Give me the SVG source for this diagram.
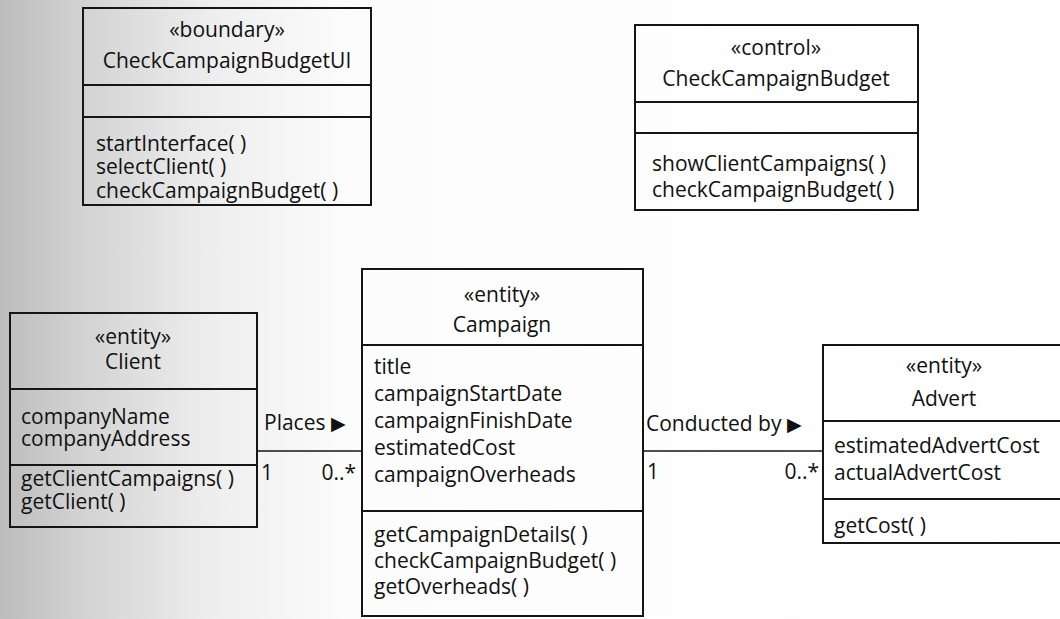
<svg xmlns="http://www.w3.org/2000/svg" width="1060" height="619" viewBox="0 0 1060 619">
  <defs>
    <linearGradient id="scan" x1="0" y1="0" x2="1" y2="0" gradientUnits="objectBoundingBox">
      <stop offset="0" stop-color="#bcbcbc"/>
      <stop offset="0.075" stop-color="#d2d2d2"/>
      <stop offset="0.2" stop-color="#eeeeee"/>
      <stop offset="0.33" stop-color="#fcfcfc"/>
      <stop offset="1" stop-color="#ffffff"/>
    </linearGradient>
  </defs>
  <style>
    .box { fill: none; stroke: #151515; stroke-width: 2; }
    .sep { stroke: #151515; stroke-width: 1.8; fill: none; }
    .assoc { stroke: #151515; stroke-width: 1.6; fill: none; }
    text { font-family: "Open Sans", "Noto Sans", "DejaVu Sans", sans-serif; font-size: 21px; fill: #111111; }
    .c { text-anchor: middle; }
    .r { text-anchor: end; }
    .arrow { font-family: "DejaVu Sans", sans-serif; font-size: 19px; }
  </style>
  <rect x="0" y="0" width="1060" height="619" fill="url(#scan)"/>

  <g id="CheckCampaignBudgetUI">
    <rect class="box" x="83" y="8" width="288" height="197"/>
    <line class="sep" x1="83" y1="85" x2="371" y2="85"/>
    <line class="sep" x1="83" y1="117" x2="371" y2="117"/>
    <text class="c" x="227" y="37">«boundary»</text>
    <text class="c" x="227" y="68">CheckCampaignBudgetUI</text>
    <text x="96" y="151">startInterface( )</text>
    <text x="96" y="174">selectClient( )</text>
    <text x="96" y="198">checkCampaignBudget( )</text>
  </g>

  <g id="CheckCampaignBudget">
    <rect class="box" x="635" y="25" width="283" height="185"/>
    <line class="sep" x1="635" y1="102" x2="918" y2="102"/>
    <line class="sep" x1="635" y1="133" x2="918" y2="133"/>
    <text class="c" x="776" y="55">«control»</text>
    <text class="c" x="776" y="86">CheckCampaignBudget</text>
    <text x="652" y="171">showClientCampaigns( )</text>
    <text x="652" y="197">checkCampaignBudget( )</text>
  </g>

  <g id="Client">
    <rect class="box" x="10" y="313" width="247" height="214"/>
    <line class="sep" x1="10" y1="389" x2="257" y2="389"/>
    <line class="sep" x1="10" y1="465" x2="257" y2="465"/>
    <text class="c" x="133" y="344">«entity»</text>
    <text class="c" x="133" y="369">Client</text>
    <text x="21" y="424">companyName</text>
    <text x="21" y="446">companyAddress</text>
    <text x="21" y="486">getClientCampaigns( )</text>
    <text x="21" y="509">getClient( )</text>
  </g>

  <g id="Campaign">
    <rect class="box" x="362" y="269" width="281" height="347"/>
    <line class="sep" x1="362" y1="345" x2="643" y2="345"/>
    <line class="sep" x1="362" y1="511" x2="643" y2="511"/>
    <text class="c" x="502" y="302">«entity»</text>
    <text class="c" x="502" y="332">Campaign</text>
    <text x="374" y="374">title</text>
    <text x="374" y="401">campaignStartDate</text>
    <text x="374" y="428">campaignFinishDate</text>
    <text x="374" y="455">estimatedCost</text>
    <text x="374" y="482">campaignOverheads</text>
    <text x="374" y="542">getCampaignDetails( )</text>
    <text x="374" y="568">checkCampaignBudget( )</text>
    <text x="374" y="594">getOverheads( )</text>
  </g>

  <g id="Advert">
    <rect class="box" x="823" y="345" width="245" height="198"/>
    <line class="sep" x1="823" y1="421" x2="1068" y2="421"/>
    <line class="sep" x1="823" y1="499" x2="1068" y2="499"/>
    <text class="c" x="944" y="373">«entity»</text>
    <text class="c" x="944" y="406">Advert</text>
    <text x="834" y="453">estimatedAdvertCost</text>
    <text x="834" y="480">actualAdvertCost</text>
    <text x="834" y="533">getCost( )</text>
  </g>

  <g id="connectors">
    <g id="places">
      <line class="assoc" x1="257" y1="451" x2="362" y2="451"/>
      <text x="264" y="430">Places <tspan class="arrow">▶</tspan></text>
      <text x="261" y="480">1</text>
      <text class="r" x="356" y="480">0..*</text>
    </g>
    <g id="conductedBy">
      <line class="assoc" x1="643" y1="451" x2="823" y2="451"/>
      <text x="646" y="431">Conducted by <tspan class="arrow">▶</tspan></text>
      <text x="647" y="479">1</text>
      <text class="r" x="819" y="479">0..*</text>
    </g>
  </g>
</svg>
